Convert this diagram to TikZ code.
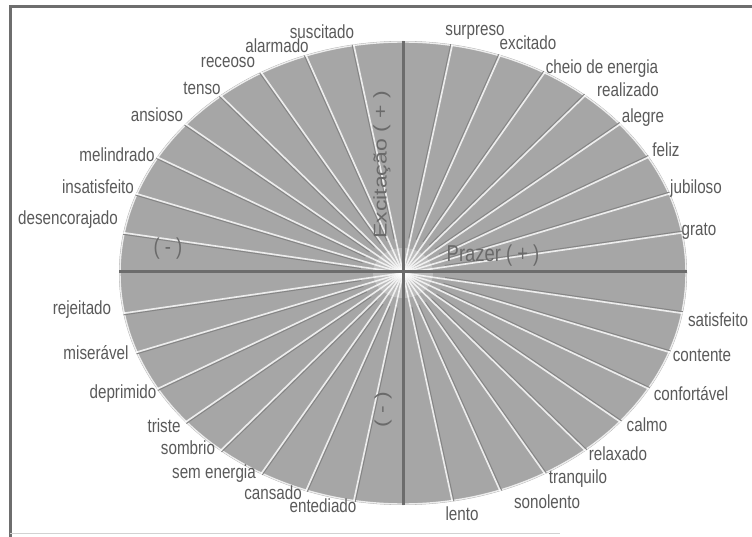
\documentclass[tikz,border=0pt]{standalone}
\usepackage{fontspec}
\usepackage{graphicx}
\setmainfont{Liberation Sans}[FakeStretch=0.8]
\newfontfamily\plainfont{Liberation Sans}
\usetikzlibrary{calc}
\definecolor{fillg}{HTML}{A6A6A6}
\definecolor{axisg}{HTML}{6C6C6C}
\definecolor{txtg}{HTML}{5A5A5A}
\definecolor{axtxt}{HTML}{6A6A6A}
\definecolor{frameg}{HTML}{6E6E6E}
\definecolor{sepdark}{HTML}{858585}
\begin{document}
\begin{tikzpicture}[x=1pt,y=-1pt,
  lbl/.style={text=txtg,font=\fontsize{19}{20}\selectfont,inner sep=0pt},
  axlbl/.style={text=axtxt,font=\fontsize{23}{24}\selectfont,inner sep=0pt},
  sepwhite/.style={white,line width=1.6pt,opacity=0.8},
  sepshadow/.style={sepdark,line width=1pt},
  axisline/.style={axisg,line width=3pt}]
\useasboundingbox (0,0) rectangle (752,537);
\fill[white] (0,0) rectangle (752,537);
% frame
\draw[frameg,line width=3pt] (10.5,537) -- (10.5,6.5) -- (752,6.5);
\draw[gray!35,line width=1pt] (10,533) -- (560,533);
% ellipse
\coordinate (O) at (403,273);
\fill[fillg] (O) ellipse [x radius=284, y radius=232];
\draw[white!80!fillg,line width=1.4pt] (O) ellipse [x radius=283, y radius=231];
\foreach \t in {10,20,...,80,100,110,...,170,190,200,...,260,280,290,...,350}{
  \coordinate (E) at ($(O)+({284*cos(\t)},{-232*sin(\t)})$);
  \coordinate (S) at ($(O)!0.15!(E)$);
  \draw[sepshadow] ($(S)!1.6pt!90:(E)$) -- ($(E)!1.6pt!-90:(S)$);
  \draw[sepwhite] (O) -- (E);
}
\fill[white,opacity=0.25] (O) ellipse [x radius=30, y radius=25];
% axes
\coordinate (L) at (119,272);
\coordinate (R) at (687,272);
\coordinate (T) at (403,41);
\coordinate (B) at (403,505);
\draw[axisline] (L) -- (R);
\draw[axisline] (T) -- (B);
% axis labels
\node[axlbl] (prazer) at (493,256) {Prazer ( + )};
\node[axlbl] (neg) at (168,249) {( - )};
\node[axlbl,rotate=90] (excit) at (382,165) {\scalebox{1}[0.8]{\plainfont\fontsize{23}{24}\selectfont Excitação ( + )}};
\node[axlbl,rotate=90] (neg2) at (383,410) {\scalebox{1}[0.8]{\plainfont\fontsize{23}{24}\selectfont ( - )}};
% upper left
\node[lbl] (suscitado) at (322,32) {suscitado};
\node[lbl] (alarmado) at (277,46) {alarmado};
\node[lbl] (receoso) at (228,62) {receoso};
\node[lbl] (tenso) at (202,88) {tenso};
\node[lbl] (ansioso) at (157,115) {ansioso};
\node[lbl] (melindrado) at (117,155) {melindrado};
\node[lbl] (insatisfeito) at (98,187) {insatisfeito};
\node[lbl] (desencorajado) at (68,220) {desencorajado};
% upper right
\node[lbl] (surpreso) at (475,32) {surpreso};
\node[lbl] (excitado) at (528,43) {excitado};
\node[lbl] (cheio) at (602,69) {cheio de energia};
\node[lbl] (realizado) at (628,90) {realizado};
\node[lbl] (alegre) at (643,118) {alegre};
\node[lbl] (feliz) at (666,150) {feliz};
\node[lbl] (jubiloso) at (696,189) {jubiloso};
\node[lbl] (grato) at (699,231) {grato};
% lower right
\node[lbl] (satisfeito) at (718,320) {satisfeito};
\node[lbl] (contente) at (702,355) {contente};
\node[lbl] (confortavel) at (691,394) {confortável};
\node[lbl] (calmo) at (647,425) {calmo};
\node[lbl] (relaxado) at (618,454) {relaxado};
\node[lbl] (tranquilo) at (578,479) {tranquilo};
\node[lbl] (sonolento) at (547,502) {sonolento};
\node[lbl] (lento) at (462,514) {lento};
% lower left
\node[lbl] (rejeitado) at (82,310) {rejeitado};
\node[lbl] (miseravel) at (96,353) {miserável};
\node[lbl] (deprimido) at (123,394) {deprimido};
\node[lbl] (triste) at (164,426) {triste};
\node[lbl] (sombrio) at (188,448) {sombrio};
\node[lbl] (semenergia) at (214,474) {sem energia};
\node[lbl] (cansado) at (273,493) {cansado};
\node[lbl] (entediado) at (323,506) {entediado};
\end{tikzpicture}
\end{document}
